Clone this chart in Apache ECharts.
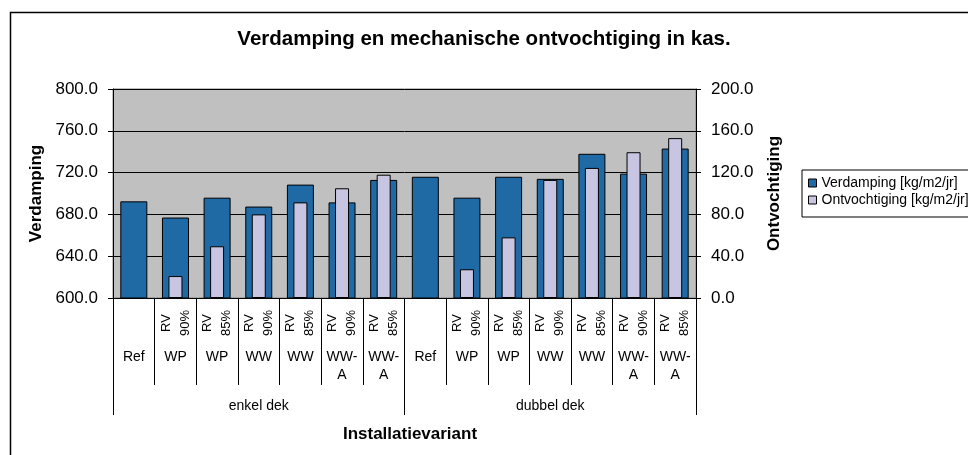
<!DOCTYPE html>
<html>
<head>
<meta charset="utf-8">
<script src="https://cdn.jsdelivr.net/npm/echarts@6/dist/echarts.min.js"></script>
<style>
html,body{margin:0;padding:0;background:#fff;}
#chart{width:968px;height:455px;}
</style>
</head>
<body>
<div id="chart"></div>
<script>
const groups = ['enkel dek', 'dubbel dek'];
const variants = ['Ref', 'WP', 'WP', 'WW', 'WW', 'WW-A', 'WW-A', 'Ref', 'WP', 'WP', 'WW', 'WW', 'WW-A', 'WW-A'];
const rvLevels = ['', 'RV 90%', 'RV 85%', 'RV 90%', 'RV 85%', 'RV 90%', 'RV 85%', '', 'RV 90%', 'RV 85%', 'RV 90%', 'RV 85%', 'RV 90%', 'RV 85%'];
const groupOf = [0, 0, 0, 0, 0, 0, 0, 1, 1, 1, 1, 1, 1, 1];
const verdamping = [692.5, 677, 696, 687.5, 708.5, 691.5, 713, 716, 696, 716, 714, 738, 719, 743];
const ontvochtiging = [null, 21, 49.5, 80, 91.5, 105, 118, null, 27.5, 58, 113, 124.5, 139.5, 153];
const leftTicks = { min: 600, max: 800, interval: 40 };
const rightTicks = { min: 0, max: 200, interval: 40 };
const titleText = 'Verdamping en mechanische ontvochtiging in kas.';
const xTitle = 'Installatievariant';
const leftName = 'Verdamping';
const rightName = 'Ontvochtiging';
const seriesNames = ['Verdamping [kg/m2/jr]', 'Ontvochtiging [kg/m2/jr]'];

const catKeys = variants.map((v, i) => groups[groupOf[i]] + '|' + v + '|' + rvLevels[i]);
const FONT = '"Liberation Sans", Arial, sans-serif';
const BLUE = '#1f6aa5';
const LIGHT = '#c8c5e2';

const chart = echarts.init(document.getElementById('chart'), null, { renderer: 'canvas' });
chart.setOption({
  backgroundColor: '#ffffff',
  animation: false,
  textStyle: { fontFamily: FONT, color: '#000' },
  title: [
    { text: titleText, left: 'center', top: 24,
      textStyle: { fontFamily: FONT, fontSize: 20.5, fontWeight: 'bold', color: '#000' } },
    { text: xTitle, left: 405, top: 421, textAlign: 'center',
      textStyle: { fontFamily: FONT, fontSize: 17, fontWeight: 'bold', color: '#000' } }
  ],
  legend: {
    orient: 'vertical', left: 802, top: 170,
    padding: [6, 6, 10, 6], itemGap: 3,
    itemWidth: 8, itemHeight: 8, icon: 'rect',
    borderColor: '#000', borderWidth: 1, backgroundColor: '#fff',
    textStyle: { fontFamily: FONT, fontSize: 14, color: '#000' },
    itemStyle: { borderColor: '#000', borderWidth: 1 },
    data: seriesNames
  },
  grid: {
    left: 113, right: 272, top: 89, bottom: 157,
    show: true, backgroundColor: '#c0c0c0', borderColor: '#808080', borderWidth: 1
  },
  xAxis: [
    { type: 'category', data: catKeys, position: 'bottom', boundaryGap: true,
      axisLine: { onZero: false, lineStyle: { color: '#000', width: 1 } },
      axisTick: { show: true, interval: 0, length: 87, lineStyle: { color: '#000' } },
      axisLabel: { interval: 0, rotate: 90, align: 'center', verticalAlign: 'middle', margin: 25,
        fontFamily: FONT, fontSize: 13, lineHeight: 19, color: '#000',
        formatter: (v, i) => rvLevels[i].replace(' ', '\n') },
      splitLine: { show: false } },
    { type: 'category', data: catKeys, position: 'bottom', boundaryGap: true, show: false,
      axisLine: { onZero: false } },
    { type: 'category', data: catKeys, position: 'bottom', boundaryGap: true,
      axisLine: { show: false, onZero: false }, axisTick: { show: false },
      axisLabel: { interval: 0, margin: 50, verticalAlign: 'top', fontFamily: FONT, fontSize: 14,
        lineHeight: 18, color: '#000', formatter: (v, i) => variants[i].replace('-', '-\n') } },
    { type: 'category', data: groups, position: 'bottom', boundaryGap: true,
      axisLine: { show: false, onZero: false },
      axisTick: { show: true, interval: 0, length: 117, lineStyle: { color: '#000' } },
      axisLabel: { interval: 0, margin: 108, verticalAlign: 'middle', fontFamily: FONT, fontSize: 14, color: '#000' } }
  ],
  yAxis: [
    { type: 'value', position: 'left', min: leftTicks.min, max: leftTicks.max, interval: leftTicks.interval,
      name: leftName, nameLocation: 'middle', nameRotate: 90, nameGap: 67,
      nameTextStyle: { fontFamily: FONT, fontSize: 17, fontWeight: 'bold', color: '#000' },
      axisLine: { show: true, lineStyle: { color: '#000' } },
      axisTick: { show: true, length: 5, lineStyle: { color: '#000' } },
      axisLabel: { margin: 15, fontFamily: FONT, fontSize: 17, color: '#000', formatter: v => v.toFixed(1) },
      splitLine: { show: true, lineStyle: { color: '#000', width: 1 } } },
    { type: 'value', position: 'right', min: rightTicks.min, max: rightTicks.max, interval: rightTicks.interval,
      name: rightName, nameLocation: 'middle', nameRotate: 90, nameGap: 70,
      nameTextStyle: { fontFamily: FONT, fontSize: 17, fontWeight: 'bold', color: '#000' },
      axisLine: { show: true, lineStyle: { color: '#000' } },
      axisTick: { show: true, length: 5, lineStyle: { color: '#000' } },
      axisLabel: { margin: 15, fontFamily: FONT, fontSize: 17, color: '#000', formatter: v => v.toFixed(1) },
      splitLine: { show: false } }
  ],
  series: [
    { name: seriesNames[0], type: 'bar', xAxisIndex: 0, yAxisIndex: 0, barWidth: 27,
      data: verdamping,
      itemStyle: { color: BLUE, borderColor: '#000', borderWidth: 1 } },
    { name: seriesNames[1], type: 'bar', xAxisIndex: 1, yAxisIndex: 1, barWidth: 14,
      data: ontvochtiging,
      itemStyle: { color: LIGHT, borderColor: '#000', borderWidth: 1 } }
  ],
  graphic: [
    { type: 'rect', left: 8, top: 10, shape: { x: 0, y: 0, width: 1000, height: 500 },
      style: { fill: 'none', stroke: '#000', lineWidth: 1.5 }, silent: true, z: 100 }
  ]
});
</script>
</body>
</html>
